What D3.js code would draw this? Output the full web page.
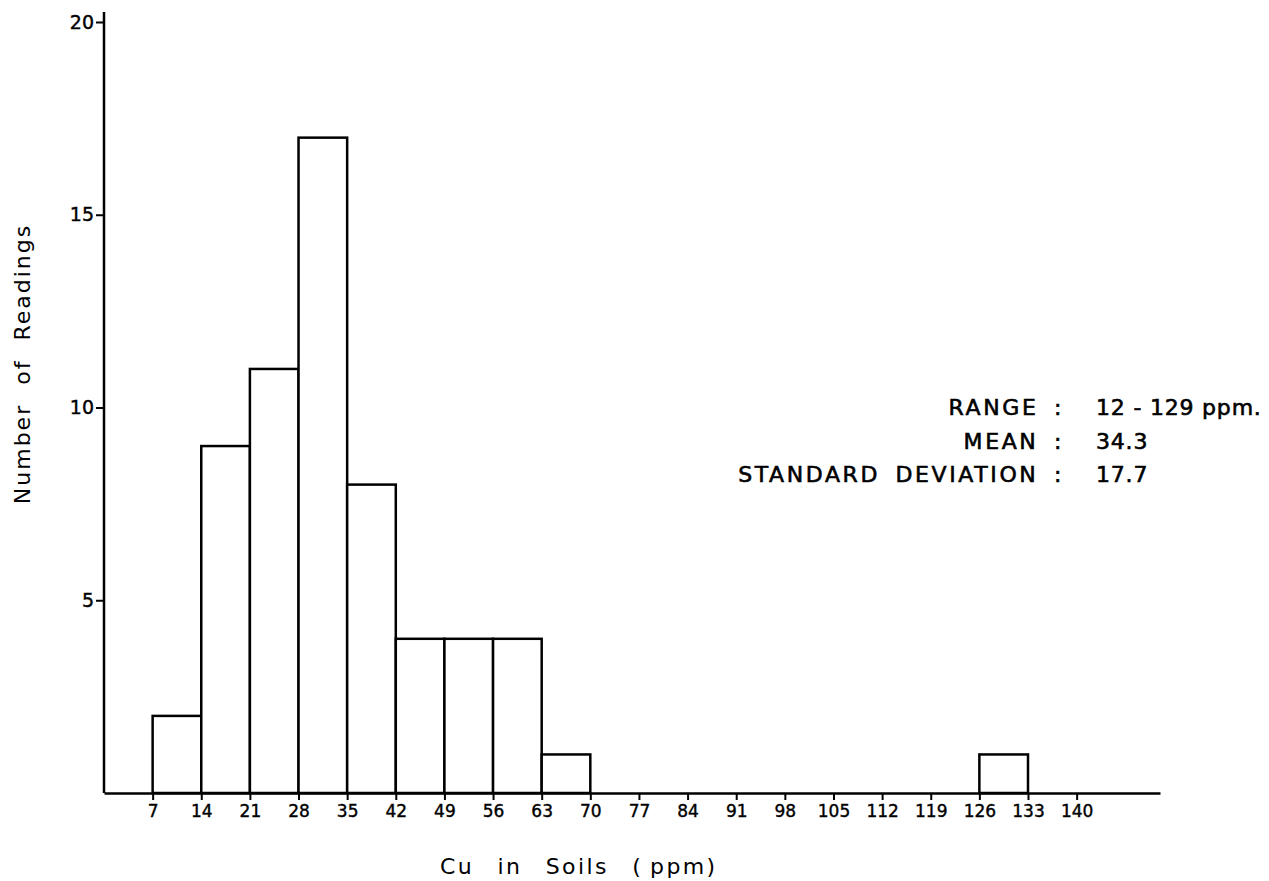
<!DOCTYPE html>
<html>
<head>
<meta charset="utf-8">
<script src="https://cdn.jsdelivr.net/npm/d3@7"></script>
<style>
  body { margin: 0; background: #fff; }
  svg { display: block; }
  text { font-family: "DejaVu Sans", sans-serif; fill: #000; }
</style>
</head>
<body>
<div id="chart"></div>
<script>
// histogram bins (lower edge, ppm) and their counts
var binStart = [7, 14, 21, 28, 35, 42, 49, 56, 63, 126];
var binCount = [2, 9, 11, 17, 8, 4, 4, 4, 1, 1];
var binWidth = 7;

var xTicks = [7, 14, 21, 28, 35, 42, 49, 56, 63, 70, 77, 84, 91, 98, 105, 112, 119, 126, 133, 140];
var yTicks = [5, 10, 15, 20];

var statLabels = ["RANGE :", "MEAN :", "STANDARD DEVIATION :"];
var statValues = ["12 - 129 ppm.", "34.3", "17.7"];

var width = 1269,
    height = 881;

var svg = d3.select("#chart").append("svg")
    .attr("width", width)
    .attr("height", height);

var x = d3.scaleLinear().domain([0, 152]).range([104, 1160]);
var y = d3.scaleLinear().domain([0, 20]).range([793, 22]);

var bins = binStart.map(function(d, i) { return { x0: d, x1: d + binWidth, n: binCount[i] }; });

// bars
svg.append("g")
  .selectAll("rect")
  .data(bins)
  .enter().append("rect")
    .attr("x", function(d) { return x(d.x0); })
    .attr("y", function(d) { return y(d.n); })
    .attr("width", function(d) { return x(d.x1) - x(d.x0); })
    .attr("height", function(d) { return y(0) - y(d.n); })
    .attr("fill", "#fff")
    .attr("stroke", "#000")
    .attr("stroke-width", 2.5);

// x axis
var xAxis = svg.append("g")
    .attr("transform", "translate(0," + y(0) + ")")
    .call(d3.axisBottom(x).tickValues(xTicks).tickSize(7).tickSizeOuter(0).tickPadding(5));
xAxis.select(".domain").attr("stroke-width", 2.5);
xAxis.selectAll(".tick line").attr("stroke-width", 2);
xAxis.selectAll(".tick text")
    .attr("font-size", 17)
    .attr("font-family", "DejaVu Sans")
    .attr("stroke", "#000").attr("stroke-width", 0.4);

// y axis
var yAxis = svg.append("g")
    .attr("transform", "translate(" + x(0) + ",0)")
    .call(d3.axisLeft(y).tickValues(yTicks).tickSize(8).tickSizeOuter(0).tickPadding(2));
yAxis.select(".domain").attr("stroke-width", 2.5).attr("d", "M0," + y(0) + "V12");
yAxis.selectAll(".tick line").attr("stroke-width", 2);
yAxis.selectAll(".tick text")
    .attr("font-size", 19)
    .attr("font-family", "DejaVu Sans")
    .attr("stroke", "#000").attr("stroke-width", 0.4);

// axis titles
svg.append("text")
    .attr("transform", "translate(30,364) rotate(-90)")
    .attr("text-anchor", "middle")
    .attr("font-size", 22)
    .attr("letter-spacing", 2)
    .attr("word-spacing", 10)
    .text("Number of Readings");

svg.append("text")
    .attr("x", 440)
    .attr("y", 874)
    .attr("font-size", 22)
    .attr("letter-spacing", 2.4)
    .attr("word-spacing", 14)
    .text("Cu in Soils (\u2009ppm)");

// statistics block
var stats = svg.append("g")
    .attr("stroke", "#000")
    .attr("stroke-width", 0.6);

stats.selectAll("text.lab")
  .data(statLabels)
  .enter().append("text")
    .attr("class", "lab")
    .attr("x", 1064)
    .attr("y", function(d, i) { return 415 + i * 33.5; })
    .attr("text-anchor", "end")
    .attr("font-size", 22)
    .attr("letter-spacing", 2.6)
    .attr("word-spacing", 6)
    .text(function(d) { return d; });

stats.selectAll("text.val")
  .data(statValues)
  .enter().append("text")
    .attr("class", "val")
    .attr("x", 1096)
    .attr("y", function(d, i) { return 415 + i * 33.5; })
    .attr("font-size", 22)
    .attr("letter-spacing", 0.8)
    .text(function(d) { return d; });
</script>
</body>
</html>
